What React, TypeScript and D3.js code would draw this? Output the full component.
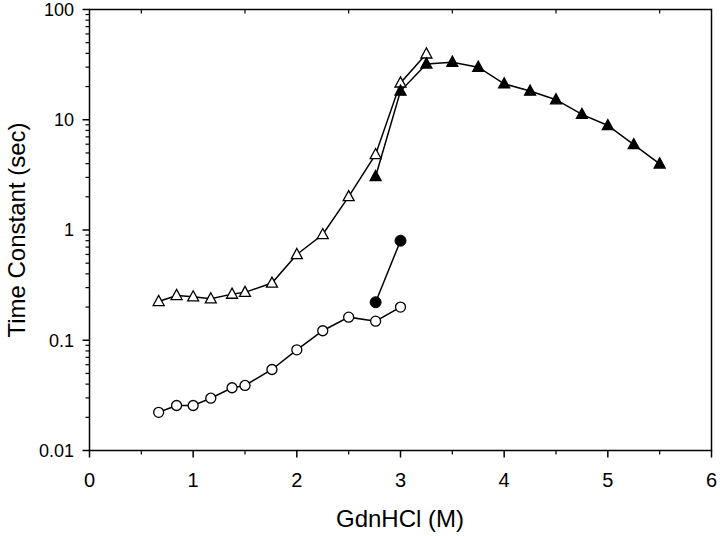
import React from "react";
import * as d3 from "d3";

const openTriX = [0.667, 0.84, 1.0, 1.17, 1.375, 1.5, 1.76, 2.0, 2.25, 2.5, 2.76, 3.0, 3.25];
const openTriY = [0.225, 0.255, 0.248, 0.238, 0.262, 0.272, 0.33, 0.6, 0.91, 2.01, 4.84, 21.6, 39.6];

const fillTriX = [2.76, 3.0, 3.25, 3.5, 3.75, 4.0, 4.25, 4.5, 4.75, 5.0, 5.25, 5.5];
const fillTriY = [3.06, 18.2, 32.1, 33.3, 30.0, 21.2, 18.2, 15.2, 11.2, 8.87, 5.96, 3.98];

const openCircX = [0.667, 0.84, 1.0, 1.17, 1.375, 1.5, 1.76, 2.0, 2.25, 2.5, 2.76, 3.0];
const openCircY = [0.0222, 0.0256, 0.0256, 0.0298, 0.0371, 0.0389, 0.0543, 0.0819, 0.122, 0.162, 0.149, 0.2];

const fillCircX = [2.76, 3.0];
const fillCircY = [0.221, 0.8];

const xTicks = [0, 1, 2, 3, 4, 5, 6];
const yTicks = [0.01, 0.1, 1, 10, 100];
const yTickLabels = ["0.01", "0.1", "1", "10", "100"];

const x0 = 89.5, x1 = 711.5, yTop = 9.5, yBot = 450.5;

export default function App() {
  const x = d3.scaleLinear().domain([0, 6]).range([x0, x1]);
  const y = d3.scaleLog().domain([0.01, 100]).range([yBot, yTop]);
  const line = d3.line<[number, number]>().x(d => x(d[0])).y(d => y(d[1]));
  const zip = (a: number[], b: number[]) => a.map((v, i) => [v, b[i]] as [number, number]);

  const tri = (cx: number, cy: number, filled: boolean, key: string) => {
    const s = 5.5;
    const p = `M${cx},${cy - s - 0.5} L${cx + s},${cy + s * 0.75} L${cx - s},${cy + s * 0.75} Z`;
    return <path key={key} d={p} fill={filled ? "#000" : "#fff"} stroke="#000" strokeWidth={1.3} />;
  };

  const minorY: number[] = [];
  for (let e = -2; e < 2; e++) for (let k = 2; k <= 9; k++) minorY.push(k * Math.pow(10, e));
  const minorX = d3.range(0.5, 6, 1);

  const font = "Liberation Sans, Arial, Helvetica, sans-serif";
  const sets: [number[], number[]][] = [
    [openTriX, openTriY], [fillTriX, fillTriY], [openCircX, openCircY], [fillCircX, fillCircY],
  ];

  return (
    <svg width={720} height={536} style={{ position: "absolute", left: 0, top: 0 }} fontFamily={font}>
      <rect width={720} height={536} fill="#fff" />
      <rect x={x0} y={yTop} width={x1 - x0} height={yBot - yTop} fill="none" stroke="#000" strokeWidth={1.5} />
      {yTicks.map((t, i) => (
        <g key={"yt" + t}>
          <line x1={x0 - 7} x2={x0} y1={y(t)} y2={y(t)} stroke="#000" strokeWidth={1.5} />
          <text x={74} y={y(t)} dy="0.36em" textAnchor="end" fontSize={18}>{yTickLabels[i]}</text>
        </g>
      ))}
      {minorY.map(t => (
        <line key={"ym" + t} x1={x0 - 4} x2={x0} y1={y(t)} y2={y(t)} stroke="#000" strokeWidth={1.2} />
      ))}
      {xTicks.map(t => (
        <g key={"xt" + t}>
          <line x1={x(t)} x2={x(t)} y1={yBot} y2={yBot + 7} stroke="#000" strokeWidth={1.5} />
          <text x={x(t)} y={487} textAnchor="middle" fontSize={20}>{t}</text>
        </g>
      ))}
      {minorX.map(t => (
        <g key={"xm" + t}>
          <line x1={x(t)} x2={x(t)} y1={yBot} y2={yBot + 4} stroke="#000" strokeWidth={1.2} />
          <line x1={x(t)} x2={x(t)} y1={yTop} y2={yTop + 4} stroke="#000" strokeWidth={1.2} />
        </g>
      ))}
      {sets.map(([a, b], i) => (
        <path key={"l" + i} d={line(zip(a, b)) || ""} fill="none" stroke="#000" strokeWidth={1.5} />
      ))}
      {zip(openTriX, openTriY).map((d, i) => tri(x(d[0]), y(d[1]), false, "ot" + i))}
      {zip(fillTriX, fillTriY).map((d, i) => tri(x(d[0]), y(d[1]), true, "ft" + i))}
      {zip(openCircX, openCircY).map((d, i) => (
        <circle key={"oc" + i} cx={x(d[0])} cy={y(d[1])} r={5} fill="#fff" stroke="#000" strokeWidth={1.3} />
      ))}
      {zip(fillCircX, fillCircY).map((d, i) => (
        <circle key={"fc" + i} cx={x(d[0])} cy={y(d[1])} r={5.5} fill="#000" stroke="#000" strokeWidth={1} />
      ))}
      <text x={400} y={527} textAnchor="middle" fontSize={24}>GdnHCl (M)</text>
      <text transform={`translate(25,${(yTop + yBot) / 2}) rotate(-90)`} textAnchor="middle" fontSize={24}>Time Constant (sec)</text>
    </svg>
  );
}
